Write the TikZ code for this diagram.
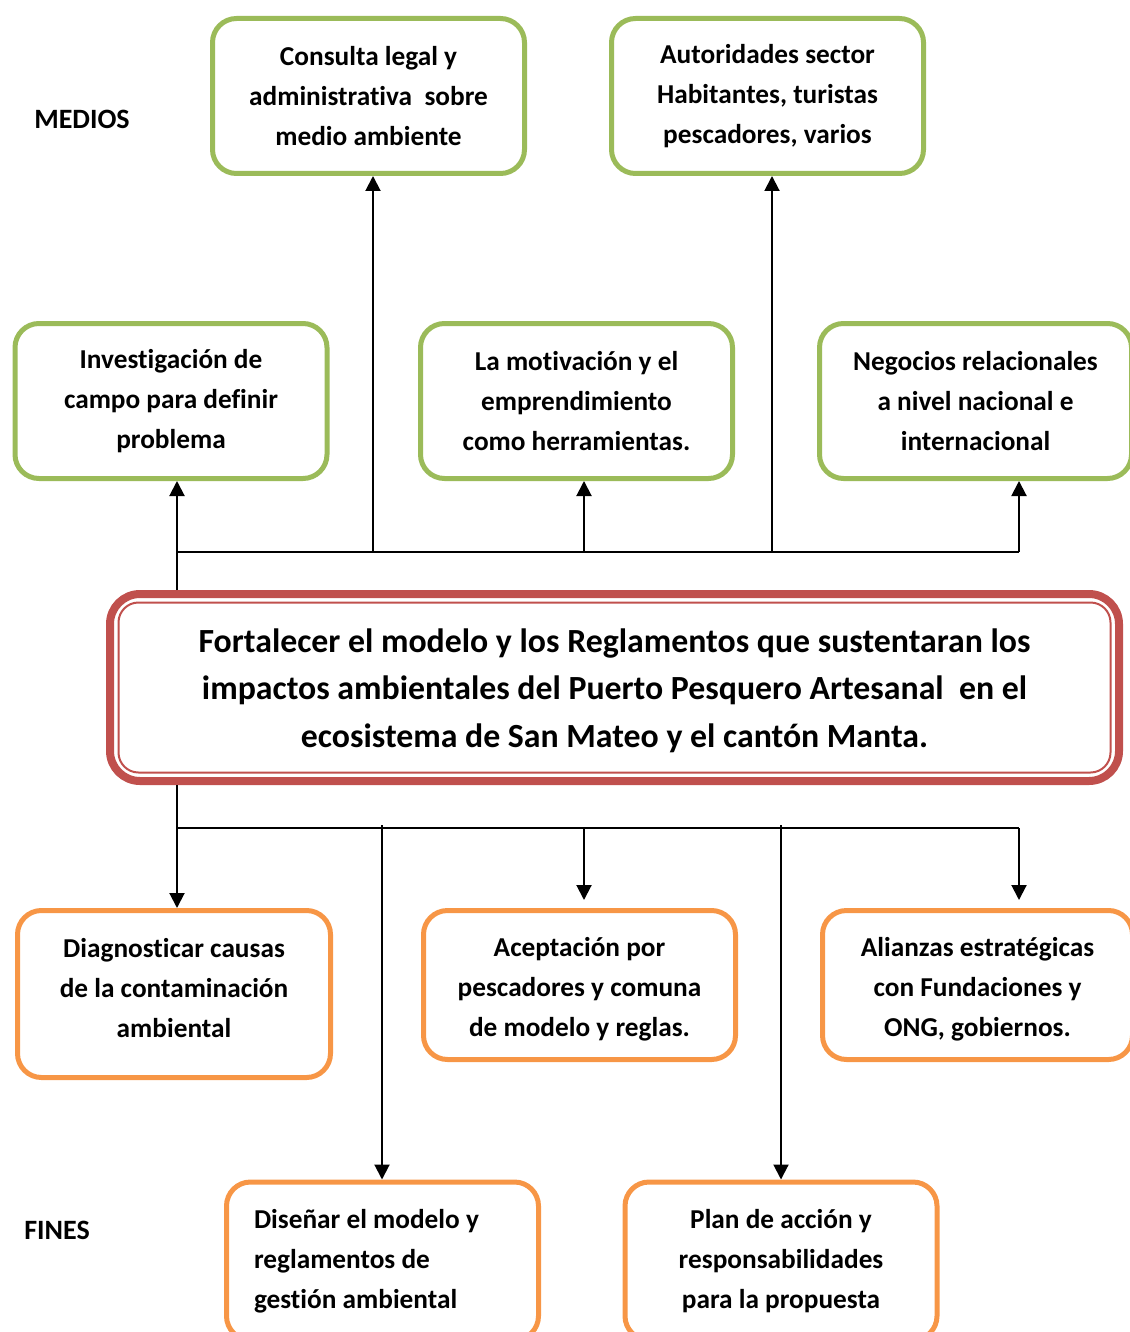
\documentclass[tikz,border=0pt]{standalone}
\usepackage{fontspec}
\setmainfont{Carlito}[Ligatures=NoCommon]
\usetikzlibrary{arrows.meta}
\definecolor{gr}{HTML}{9BBB59}
\definecolor{og}{HTML}{F79646}
\definecolor{rd}{HTML}{C0504D}
\begin{document}
\begin{tikzpicture}[x=1pt,y=-1pt,
  box/.style={line width=5pt, rounded corners=24pt, minimum width=312pt, minimum height=155pt,
    align=center, inner sep=0pt, font=\fontsize{27.3}{40}\selectfont\bfseries},
  gbox/.style={box, draw=gr},
  obox/.style={box, draw=og},
  btext/.style={align=center, inner sep=0pt, font=\fontsize{27.3}{40}\selectfont\bfseries},
  lbl/.style={font=\fontsize{28}{30}\selectfont\bfseries, inner sep=0pt},
  conn/.style={line width=2pt, black},
  arr/.style={conn, -{Triangle[length=15pt,width=15pt]}}
]
\useasboundingbox (0,0) rectangle (1129,1332);
% labels
\node[lbl] (medios) at (82,119) {MEDIOS};
\node[lbl] (fines) at (57,1230) {FINES};
% medios boxes
\node[gbox] (cons) at (368.5,96) {Consulta legal y\\administrativa\ \ sobre\\medio ambiente};
\node[gbox] (auto) at (767.5,96) {Autoridades sector\\Habitantes, turistas\\pescadores, varios};
\node[gbox] (inv) at (171,401) {Investigación de\\campo para definir\\problema};
\node[gbox] (mot) at (576.5,401) {La motivación y el\\emprendimiento\\como herramientas.};
\node[gbox] (neg) at (975.5,401) {Negocios relacionales\\a nivel nacional e\\internacional};
% main
\node[draw=rd, line width=8pt, rounded corners=30pt, minimum width=1009pt, minimum height=187pt,
  inner sep=0pt] (main) at (614.5,687.5) {};
\node[align=center, inner sep=0pt, font=\fontsize{33.8}{47.5}\selectfont\bfseries] (maintext) at (614.5,690.5)
  {Fortalecer el modelo y los Reglamentos que sustentaran los\\impactos ambientales del Puerto Pesquero Artesanal\ \ en el\\ecosistema de San Mateo y el cantón Manta.};
\draw[rd, line width=2pt, rounded corners=20pt] ([shift={(12.5,12.5)}]main.north west) rectangle ([shift={(-12.5,-12.5)}]main.south east);
% fines boxes
\node[obox, minimum width=313pt, minimum height=167pt] (diag) at (174,994) {};
\node[btext] (diagtext) at (174,988) {Diagnosticar causas\\de la contaminación\\ambiental};
\node[obox, minimum width=312pt, minimum height=149pt] (acep) at (579.5,985) {};
\node[btext] (aceptext) at (579.5,989) {Aceptación por\\pescadores y comuna\\de modelo y reglas.};
\node[obox, minimum width=310pt, minimum height=149pt] (ali) at (977.5,985) {};
\node[btext] (alitext) at (977.5,989) {Alianzas estratégicas\\con Fundaciones y\\ONG, gobiernos.};
\node[obox, minimum height=158pt, align=left] (dis) at (382.5,1261) {\parbox{257pt}{\raggedright Diseñar el modelo y\\reglamentos de\\gestión ambiental}};
\node[obox, minimum height=158pt] (plan) at (781,1261) {Plan de acción y\\responsabilidades\\para la propuesta};
% coordinates
\coordinate (x177) at (177,0);
\coordinate (x373) at (373,0);
\coordinate (x584) at (584,0);
\coordinate (x772) at (772,0);
\coordinate (x1019) at (1019,0);
\coordinate (x382) at (382,0);
\coordinate (x781) at (781,0);
\coordinate (tb) at (0,552);
\coordinate (bb) at (0,828);
\coordinate (bs) at (0,825);
\coordinate (bt) at (0,900);
% top connectors
\draw[conn] (tb -| x177) -- (tb -| x1019);
\draw[arr] (main.north -| x177) -- (inv.south -| x177);
\draw[arr] (tb -| x373) -- (cons.south -| x373);
\draw[arr] (tb -| x584) -- (mot.south -| x584);
\draw[arr] (tb -| x772) -- (auto.south -| x772);
\draw[arr] (tb -| x1019) -- (neg.south -| x1019);
% bottom connectors
\draw[conn] (bb -| x177) -- (bb -| x1019);
\draw[arr] (main.south -| x177) -- (diag.north -| x177);
\draw[arr] (bs -| x382) -- (dis.north -| x382);
\draw[arr] (bb -| x584) -- (bt -| x584);
\draw[arr] (bs -| x781) -- (plan.north -| x781);
\draw[arr] (bb -| x1019) -- (bt -| x1019);
\end{tikzpicture}
\end{document}
